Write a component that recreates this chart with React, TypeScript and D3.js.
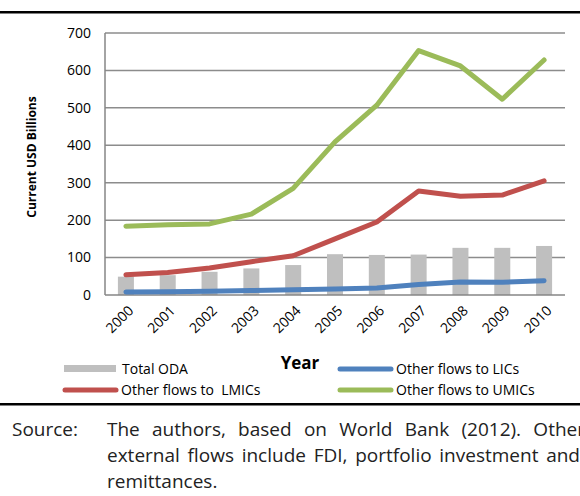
import * as d3 from 'd3';
import {useEffect, useRef} from 'react';

const years = ['2000', '2001', '2002', '2003', '2004', '2005', '2006', '2007', '2008', '2009', '2010'];
const totalOda = [49, 53, 62, 71, 80, 109, 107, 108, 126, 126, 131];
const flowsLics = [8, 9, 10, 12, 14, 16, 19, 28, 35, 34, 38];
const flowsLmics = [54, 60, 72, 89, 105, 150, 195, 278, 264, 267, 305];
const flowsUmics = [184, 188, 190, 216, 285, 409, 507, 653, 612, 523, 628];
const yTicks = [0, 100, 200, 300, 400, 500, 600, 700];
const noteLines = [
	'The authors, based on World Bank (2012). Other',
	'external flows include FDI, portfolio investment and',
	'remittances.',
];

const font = 'Open Sans, sans-serif';

export default function App() {
	const svgRef = useRef(null);
	const width = 580;
	const height = 496;
	const margin = {top: 33, right: 15, bottom: 201, left: 105};
	const innerWidth = width - margin.left - margin.right;
	const innerHeight = height - margin.top - margin.bottom;

	useEffect(() => {
		const svg = d3.select(svgRef.current);
		svg.selectAll('*').remove();

		const x = d3.scaleBand().domain(years).range([0, innerWidth]).padding(0);
		const y = d3.scaleLinear().domain([0, 700]).range([innerHeight, 0]);
		const cx = (yr: string) => x(yr)! + x.bandwidth() / 2;

		// rules above the chart and below it
		svg.append('rect').attr('x', 0).attr('y', 11).attr('width', width).attr('height', 2.5).attr('fill', '#000');
		svg.append('rect').attr('x', 0).attr('y', 403).attr('width', width).attr('height', 2.5).attr('fill', '#000');

		const chart = svg.append('g').attr('transform', `translate(${margin.left},${margin.top})`);

		// grid
		chart
			.selectAll('.grid')
			.data(yTicks.slice(1))
			.join('line')
			.attr('x1', 0)
			.attr('x2', innerWidth)
			.attr('y1', (d) => y(d))
			.attr('y2', (d) => y(d))
			.attr('stroke', '#8c8c8c')
			.attr('stroke-width', 1.5);

		// bars
		const barW = 16;
		chart
			.selectAll('.bar')
			.data(totalOda)
			.join('rect')
			.attr('x', (_, i) => cx(years[i]) - barW / 2)
			.attr('y', (d) => y(d))
			.attr('width', barW)
			.attr('height', (d) => innerHeight - y(d))
			.attr('fill', '#bfbfbf');

		// axes lines
		chart.append('line').attr('x1', 0).attr('x2', innerWidth).attr('y1', innerHeight).attr('y2', innerHeight).attr('stroke', '#868686').attr('stroke-width', 1.5);
		chart.append('line').attr('x1', 0).attr('x2', 0).attr('y1', 0).attr('y2', innerHeight).attr('stroke', '#868686').attr('stroke-width', 1.5);

		const series = [
			{values: flowsLics, color: '#4f81bd'},
			{values: flowsLmics, color: '#c0504d'},
			{values: flowsUmics, color: '#9bbb59'},
		];
		const line = d3
			.line<number>()
			.x((_, i) => cx(years[i]))
			.y((d) => y(d));
		series.forEach((s) => {
			chart
				.append('path')
				.attr('d', line(s.values))
				.attr('fill', 'none')
				.attr('stroke', s.color)
				.attr('stroke-width', 5)
				.attr('stroke-linecap', 'round')
				.attr('stroke-linejoin', 'round');
		});

		// y tick labels
		chart
			.selectAll('.ytick')
			.data(yTicks)
			.join('text')
			.attr('x', -14)
			.attr('y', (d) => y(d))
			.attr('dy', '0.35em')
			.attr('text-anchor', 'end')
			.style('font-family', font)
			.style('font-size', '14px')
			.style('fill', '#000')
			.text((d) => d);

		// x tick labels
		chart
			.selectAll('.xtick')
			.data(years)
			.join('text')
			.attr('transform', (d) => `translate(${cx(d) + 5},${innerHeight + 13}) rotate(-45)`)
			.attr('text-anchor', 'end')
			.attr('dy', '0.35em')
			.style('font-family', font)
			.style('font-size', '14px')
			.style('fill', '#000')
			.text((d) => d);

		// axis titles
		svg
			.append('text')
			.attr('transform', `translate(36,157) rotate(-90)`)
			.attr('text-anchor', 'middle')
			.style('font-family', font)
			.style('font-size', '12px')
			.style('font-weight', 'bold')
			.text('Current USD Billions');
		svg
			.append('text')
			.attr('x', 300)
			.attr('y', 369)
			.attr('text-anchor', 'middle')
			.style('font-family', font)
			.style('font-size', '17px')
			.style('font-weight', 'bold')
			.text('Year');

		// legend
		const legend = [
			{label: 'Total ODA', x: 64, y: 369, kind: 'bar', color: '#bfbfbf'},
			{label: 'Other flows to LICs', x: 338, y: 369, kind: 'line', color: '#4f81bd'},
			{label: 'Other flows to\u00a0 LMICs', x: 63, y: 390, kind: 'line', color: '#c0504d'},
			{label: 'Other flows to UMICs', x: 338, y: 390, kind: 'line', color: '#9bbb59'},
		];
		legend.forEach((l) => {
			if (l.kind === 'bar') {
				svg.append('rect').attr('x', l.x).attr('y', l.y - 4).attr('width', 52).attr('height', 7).attr('fill', l.color);
			} else {
				svg
					.append('line')
					.attr('x1', l.x + 2)
					.attr('x2', l.x + 53)
					.attr('y1', l.y)
					.attr('y2', l.y)
					.attr('stroke', l.color)
					.attr('stroke-width', 5)
					.attr('stroke-linecap', 'round');
			}
			svg
				.append('text')
				.attr('x', l.x + 58)
				.attr('y', l.y)
				.attr('dy', '0.35em')
				.style('font-family', font)
				.style('font-size', '14px')
				.text(l.label);
		});

		// source note, first two lines justified with word spacing
		const note = svg.append('g').style('font-family', font).style('font-size', '19px').style('fill', '#222');
		note.append('text').attr('x', 12).attr('y', 436).text('Source:');
		const targets = [478, 473, 0];
		noteLines.forEach((t, i) => {
			const el = note
				.append('text')
				.attr('x', 107)
				.attr('y', 436 + i * 26)
				.text(t);
			if (targets[i]) {
				const node = el.node() as SVGTextElement;
				const natural = node.getComputedTextLength();
				const spaces = t.split(' ').length - 1;
				el.attr('word-spacing', (targets[i] - natural) / spaces);
			}
		});
	}, []);

	return (
		<svg
			ref={svgRef}
			width={width}
			height={height}
			style={{position: 'absolute', left: 0, top: 0, background: '#fff'}}
		/>
	);
}
